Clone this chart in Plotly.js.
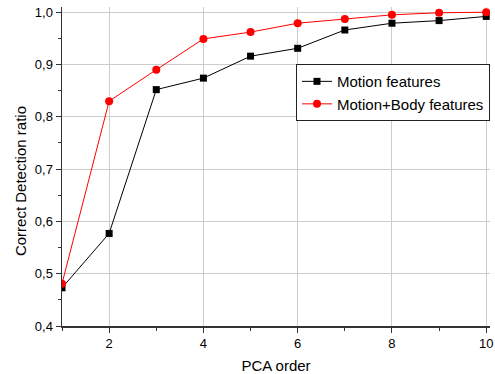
<!DOCTYPE html>
<html>
<head>
<meta charset="utf-8">
<script src="https://cdn.plot.ly/plotly-3.0.1.min.js"></script>
<style>html,body{margin:0;padding:0;background:#fff;}#chart{width:495px;height:374px;}</style>
</head>
<body>
<div id="chart"></div>
<script>
const pcaOrder = [1, 2, 3, 4, 5, 6, 7, 8, 9, 10];
const motionFeatures = [0.473, 0.577, 0.852, 0.874, 0.916, 0.931, 0.966, 0.979, 0.984, 0.992];
const motionBodyFeatures = [0.481, 0.830, 0.890, 0.949, 0.962, 0.979, 0.987, 0.995, 0.999, 1.0];
const seriesNames = ["Motion features", "Motion+Body features"];
const xTitle = "PCA order";
const yTitle = "Correct Detection ratio";

const traces = [
  {
    x: pcaOrder, y: motionFeatures, name: seriesNames[0],
    type: "scatter", mode: "lines+markers",
    line: {color: "#000000", width: 1},
    marker: {symbol: "square", size: 7, color: "#000000"}
  },
  {
    x: pcaOrder, y: motionBodyFeatures, name: seriesNames[1],
    type: "scatter", mode: "lines+markers",
    line: {color: "#ff0000", width: 1},
    marker: {symbol: "circle", size: 8, color: "#ff0000"}
  }
];

const layout = {
  width: 495, height: 374,
  margin: {l: 62, r: 5, t: 7, b: 48},
  paper_bgcolor: "#ffffff", plot_bgcolor: "#ffffff",
  separators: ", ",
  font: {family: "Liberation Sans, Arial, sans-serif", size: 12, color: "#000"},
  showlegend: true,
  legend: {
    x: 1.0, y: 0.821, xanchor: "right", yanchor: "top",
    bgcolor: "#ffffff", bordercolor: "#222222", borderwidth: 1,
    font: {size: 15, family: "Liberation Sans, Arial, sans-serif"},
    tracegroupgap: 0, itemwidth: 30
  },
  xaxis: {
    range: [1, 10.08], tick0: 0, dtick: 2,
    showline: true, linecolor: "#333", linewidth: 1.5,
    ticks: "outside", ticklen: 5, tickcolor: "#333", tickwidth: 1,
    showgrid: true, gridcolor: "#cccccc", gridwidth: 1, zeroline: false,
    minor: {dtick: 1, tick0: 0, ticks: "outside", ticklen: 3, tickcolor: "#333", showgrid: false},
    tickfont: {size: 13},
    title: {text: xTitle, font: {size: 15}, standoff: 10}
  },
  yaxis: {
    range: [0.4, 1.01], tick0: 0.4, dtick: 0.1, tickformat: ".1f",
    showline: true, linecolor: "#333", linewidth: 1.5,
    ticks: "outside", ticklen: 5, tickcolor: "#333", tickwidth: 1,
    showgrid: true, gridcolor: "#cccccc", gridwidth: 1, zeroline: false,
    minor: {dtick: 0.05, tick0: 0.4, ticks: "outside", ticklen: 3, tickcolor: "#333", showgrid: false},
    tickfont: {size: 13}
  },
  annotations: [{
    text: yTitle, textangle: -90, showarrow: false,
    xref: "paper", yref: "paper", x: -0.098, y: 0.4545,
    xanchor: "center", yanchor: "middle",
    font: {size: 15, family: "Liberation Sans, Arial, sans-serif", color: "#000"}
  }]
};

Plotly.newPlot("chart", traces, layout, {displayModeBar: false, staticPlot: true});
</script>
</body>
</html>
